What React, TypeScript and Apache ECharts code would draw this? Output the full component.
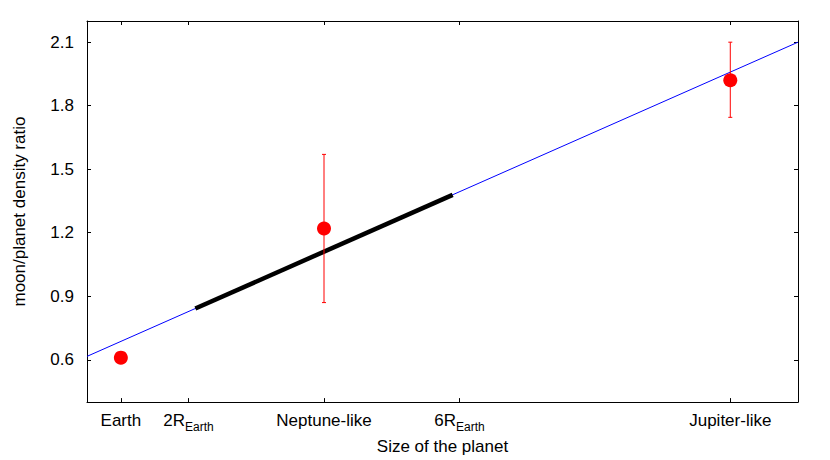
import React, { useEffect, useRef } from "react";
import * as echarts from "echarts";

const xTickValues = [1, 2, 4, 6, 10];
const xTickLabels = ["Earth", "2R_Earth", "Neptune-like", "6R_Earth", "Jupiter-like"];
const yTickValues = [0.6, 0.9, 1.2, 1.5, 1.8, 2.1];

const pointX = [1, 4, 10];
const pointY = [0.61, 1.22, 1.92];
const errLow = [0.61, 0.87, 1.745];
const errHigh = [0.61, 1.57, 2.1];

const fitLine = [[0.5, 0.616], [11, 2.1]];
const thickLine = [[2.1, 0.842], [5.9, 1.379]];

const FONT = "'Liberation Sans', Arial, Helvetica, sans-serif";
const FS = 17;

export default function App() {
  const ref = useRef<HTMLDivElement>(null);
  useEffect(() => {
    if (!ref.current) return;
    const chart = echarts.init(ref.current, null, { renderer: "svg" });
    const axisCommon = {
      axisLine: { show: true, lineStyle: { color: "#000", width: 1 } },
      axisTick: { show: true, inside: true, length: 4, lineStyle: { color: "#000" } },
      splitLine: { show: false },
    };
    const fmtX = (v: number) => {
      const i = xTickValues.indexOf(v);
      if (i < 0) return "";
      const l = xTickLabels[i];
      if (l.includes("_")) {
        const [m, s] = l.split("_");
        return `{m|${m}}{s|${s}}`;
      }
      return `{m|${l}}`;
    };
    const errData = pointX.map((x, i) => [x, errLow[i], errHigh[i]]);
    chart.setOption({
      animation: false,
      grid: { left: 87, right: 32, top: 21, bottom: 57 },
      textStyle: { fontFamily: FONT },
      xAxis: [
        {
          type: "value",
          min: 0.5,
          max: 11,
          position: "bottom",
          ...axisCommon,
          axisTick: { ...axisCommon.axisTick, customValues: xTickValues },
          axisLabel: {
            customValues: xTickValues,
            formatter: fmtX,
            margin: 9,
            rich: {
              m: { fontSize: FS, color: "#000", fontFamily: FONT, height: 18, verticalAlign: "top" },
              s: { fontSize: 12, color: "#000", fontFamily: FONT, padding: [10, 0, 0, 0], verticalAlign: "top" },
            },
          },
          name: "Size of the planet",
          nameLocation: "middle",
          nameGap: 35,
          nameTextStyle: { fontSize: FS, color: "#000", fontFamily: FONT, verticalAlign: "top" },
        },
        {
          type: "value",
          min: 0.5,
          max: 11,
          position: "top",
          ...axisCommon,
          axisTick: { ...axisCommon.axisTick, customValues: xTickValues },
          axisLabel: { show: false },
        },
      ],
      yAxis: [
        {
          type: "value",
          min: 0.4,
          max: 2.2,
          position: "left",
          ...axisCommon,
          axisTick: { ...axisCommon.axisTick, customValues: yTickValues },
          axisLabel: {
            customValues: yTickValues,
            formatter: (v: number) => v.toFixed(1),
            fontSize: FS,
            color: "#000",
            fontFamily: FONT,
            margin: 13,
          },
          name: "moon/planet density ratio",
          nameLocation: "middle",
          nameRotate: 90,
          nameGap: 59,
          nameTextStyle: { fontSize: FS, color: "#000", fontFamily: FONT },
        },
        {
          type: "value",
          min: 0.4,
          max: 2.2,
          position: "right",
          ...axisCommon,
          axisTick: { ...axisCommon.axisTick, customValues: yTickValues },
          axisLabel: { show: false },
        },
      ],
      series: [
        {
          type: "line",
          data: fitLine,
          symbol: "none",
          lineStyle: { color: "#0000ff", width: 1 },
          z: 1,
        },
        {
          type: "line",
          data: thickLine,
          symbol: "none",
          lineStyle: { color: "#000", width: 4.5, cap: "butt" },
          z: 2,
        },
        {
          type: "custom",
          data: errData,
          z: 3,
          renderItem: (params: any, api: any) => {
            const x = api.value(0);
            const lo = api.value(1);
            const hi = api.value(2);
            if (hi - lo < 1e-6) return { type: "group", children: [] };
            const t = api.coord([x, hi]);
            const b = api.coord([x, lo]);
            const w = 2;
            const style = { stroke: "#ff0000", lineWidth: 1 };
            return {
              type: "group",
              children: [
                { type: "line", shape: { x1: t[0], y1: t[1], x2: b[0], y2: b[1] }, style },
                { type: "line", shape: { x1: t[0] - w, y1: t[1], x2: t[0] + w, y2: t[1] }, style },
                { type: "line", shape: { x1: b[0] - w, y1: b[1], x2: b[0] + w, y2: b[1] }, style },
              ],
            };
          },
        },
        {
          type: "scatter",
          data: pointX.map((x, i) => [x, pointY[i]]),
          symbol: "circle",
          symbolSize: 14,
          itemStyle: { color: "#ff0000", opacity: 1 },
          z: 4,
        },
      ],
    });
    return () => chart.dispose();
  }, []);
  return <div ref={ref} style={{ width: 830, height: 460, position: "absolute", left: 0, top: 0 }} />;
}
